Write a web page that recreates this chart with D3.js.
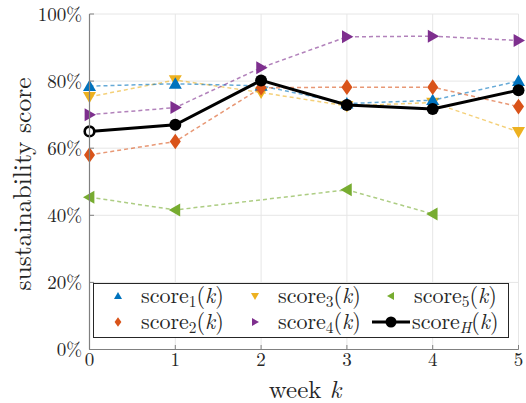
<!DOCTYPE html>
<html><head><meta charset="utf-8">
<script src="https://cdn.jsdelivr.net/npm/d3@7"></script>
<style>
html,body{margin:0;padding:0;background:#fff;}
</style></head>
<body><svg id="c" width="526" height="403"></svg>
<script>
// ---- data ----
const weeks = [0, 1, 2, 3, 4, 5];
const score1 = [78.5, 79.2, 78.6, 73.3, 74.3, 80.0];
const score2 = [58.0, 62.0, 78.0, 78.2, 78.2, 72.4];
const score3 = [75.3, 80.3, 76.6, 72.6, 73.6, 64.9];
const score4 = [70.0, 72.1, 84.0, 93.2, 93.4, 92.1];
const weeks5 = [0, 1, 3, 4];
const score5 = [45.4, 41.6, 47.6, 40.4];
const scoreH = [65.0, 67.0, 80.2, 72.9, 71.7, 77.3];
const yTicks = [0, 20, 40, 60, 80, 100];
const xTicks = [0, 1, 2, 3, 4, 5];

const FONT = '"Latin Modern Roman"';
const svg = d3.select("#c");
const x = d3.scaleLinear().domain([0, 5]).range([89.5, 518.5]);
const y = d3.scaleLinear().domain([0, 100]).range([349.5, 14]);

function txt(sel) { return sel.style("font-family", FONT).attr("fill", "#262626"); }

// grid
const g = svg.append("g");
g.selectAll(".gx").data(xTicks).enter().append("line")
  .attr("x1", d => x(d)).attr("x2", d => x(d)).attr("y1", y(0)).attr("y2", y(100))
  .attr("stroke", "#e6e6e6").attr("stroke-width", 1);
g.selectAll(".gy").data(yTicks).enter().append("line")
  .attr("y1", d => y(d)).attr("y2", d => y(d)).attr("x1", x(0)).attr("x2", x(5))
  .attr("stroke", "#e6e6e6").attr("stroke-width", 1);

// marker paths
function markerPath(type, s) {
  const h = s / 2;
  const p = d3.path();
  if (type === "up") { p.moveTo(0, -h); p.lineTo(h, h * 0.75); p.lineTo(-h, h * 0.75); }
  else if (type === "down") { p.moveTo(0, h); p.lineTo(h, -h * 0.75); p.lineTo(-h, -h * 0.75); }
  else if (type === "right") { p.moveTo(h, 0); p.lineTo(-h * 0.75, h); p.lineTo(-h * 0.75, -h); }
  else if (type === "left") { p.moveTo(-h, 0); p.lineTo(h * 0.75, h); p.lineTo(h * 0.75, -h); }
  else if (type === "diamond") { p.moveTo(0, -h * 1.2); p.lineTo(h * 0.85, 0); p.lineTo(0, h * 1.2); p.lineTo(-h * 0.85, 0); }
  p.closePath();
  return p.toString();
}

const series = [
  {xs: weeks, v: score3, c: "#EDB120", m: "down"},
  {xs: weeks, v: score1, c: "#0072BD", m: "up"},
  {xs: weeks, v: score2, c: "#D95319", m: "diamond"},
  {xs: weeks, v: score4, c: "#7E2F8E", m: "right"},
  {xs: weeks5, v: score5, c: "#77AC30", m: "left"}
];

const line = d3.line().x(d => x(d[0])).y(d => y(d[1]));
series.forEach(s => {
  const pts = s.xs.map((w, i) => [w, s.v[i]]);
  svg.append("path").attr("d", line(pts)).attr("fill", "none")
    .attr("stroke", s.c).attr("stroke-opacity", 0.6).attr("stroke-width", 1.5)
    .attr("stroke-dasharray", "4,3");
  svg.selectAll(null).data(pts).enter().append("path")
    .attr("d", markerPath(s.m, 13))
    .attr("transform", d => `translate(${x(d[0])},${y(d[1])})`)
    .attr("fill", s.c);
});

// scoreH
const ptsH = weeks.map((w, i) => [w, scoreH[i]]);
svg.append("path").attr("d", line(ptsH)).attr("fill", "none")
  .attr("stroke", "#000").attr("stroke-width", 3);
svg.selectAll(null).data(ptsH).enter().append("circle")
  .attr("cx", d => x(d[0])).attr("cy", d => y(d[1])).attr("r", d => d[0] === 0 ? 4.8 : 6)
  .attr("fill", d => d[0] === 0 ? "#fff" : "#000")
  .attr("stroke", "#000").attr("stroke-width", d => d[0] === 0 ? 2.6 : 0);

// axes
svg.append("line").attr("x1", x(0)).attr("x2", x(0)).attr("y1", y(0)).attr("y2", y(100))
  .attr("stroke", "#808080").attr("stroke-width", 1.2);
svg.append("line").attr("x1", x(0)).attr("x2", x(5)).attr("y1", y(0)).attr("y2", y(0))
  .attr("stroke", "#808080").attr("stroke-width", 1.2);
svg.selectAll(null).data(yTicks).enter().append("line")
  .attr("x1", x(0)).attr("x2", x(0) + 4.5).attr("y1", d => y(d)).attr("y2", d => y(d))
  .attr("stroke", "#808080");
svg.selectAll(null).data(xTicks).enter().append("line")
  .attr("x1", d => x(d)).attr("x2", d => x(d)).attr("y1", y(0)).attr("y2", y(0) - 4.5)
  .attr("stroke", "#808080");
txt(svg.selectAll(null).data(yTicks).enter().append("text"))
  .attr("x", 82).attr("y", d => y(d) + 6.5).attr("text-anchor", "end")
  .attr("font-size", 19).text(d => d + "%");
txt(svg.selectAll(null).data(xTicks).enter().append("text"))
  .attr("x", d => x(d)).attr("y", 366).attr("text-anchor", "middle")
  .attr("font-size", 19).text(d => d);

// labels
const xl = txt(svg.append("text"))
  .attr("x", 305).attr("y", 398).attr("text-anchor", "middle").attr("font-size", 25);
xl.append("tspan").text("week ");
xl.append("tspan").attr("font-style", "italic").text("k");
txt(svg.append("text"))
  .attr("transform", "translate(31,184) rotate(-90)")
  .attr("text-anchor", "middle").attr("font-size", 25.5).text("sustainability score");

// legend
svg.append("rect").attr("x", 93.5).attr("y", 283.5).attr("width", 415).attr("height", 54)
  .attr("fill", "#fff").attr("stroke", "#262626").attr("stroke-width", 1);
const leg = [
  {sub: "1", c: "#0072BD", m: "up", mx: 118, tx: 141, ty: 296},
  {sub: "2", c: "#D95319", m: "diamond", mx: 118, tx: 141, ty: 322},
  {sub: "3", c: "#EDB120", m: "down", mx: 255, tx: 278, ty: 296},
  {sub: "4", c: "#7E2F8E", m: "right", mx: 255, tx: 278, ty: 322},
  {sub: "5", c: "#77AC30", m: "left", mx: 391, tx: 414, ty: 296},
  {sub: "H", c: "#000", m: "circle", mx: 391, tx: 412, ty: 322}
];
leg.forEach(l => {
  if (l.m === "circle") {
    svg.append("line").attr("x1", 372).attr("x2", 410).attr("y1", l.ty).attr("y2", l.ty)
      .attr("stroke", "#000").attr("stroke-width", 3);
    svg.append("circle").attr("cx", l.mx).attr("cy", l.ty).attr("r", 5.5).attr("fill", "#000");
  } else {
    svg.append("path").attr("d", markerPath(l.m, 8))
      .attr("transform", `translate(${l.mx},${l.ty})`).attr("fill", l.c);
  }
  const t = txt(svg.append("text")).attr("x", l.tx).attr("y", l.ty + 7).attr("font-size", 22);
  t.append("tspan").text("score");
  const st = t.append("tspan").attr("font-size", 15.4).attr("dy", 4).text(l.sub);
  if (l.sub === "H") st.attr("font-style", "italic");
  t.append("tspan").attr("dy", -4).text("(");
  t.append("tspan").attr("font-style", "italic").text("k");
  t.append("tspan").text(")");
});
</script></body></html>
